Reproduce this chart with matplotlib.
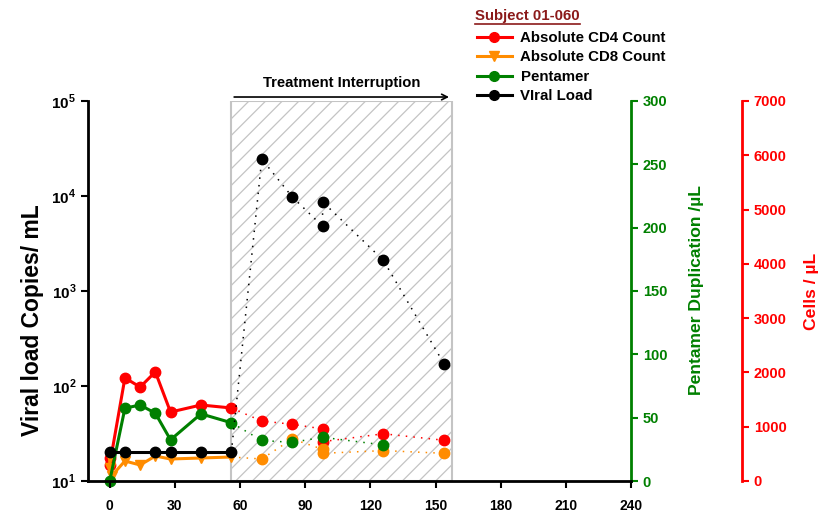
import matplotlib
matplotlib.use("Agg")
import matplotlib.pyplot as plt
from matplotlib.lines import Line2D

plt.rcParams['font.family'] = ['Liberation Sans', 'DejaVu Sans']
plt.rcParams['font.weight'] = 'bold'
plt.rcParams['mathtext.fontset'] = 'custom'
plt.rcParams['mathtext.rm'] = 'Liberation Sans:bold'
plt.rcParams['mathtext.bf'] = 'Liberation Sans:bold'
plt.rcParams['hatch.linewidth'] = 0.9

RED = '#ff0000'
ORANGE = '#ff8c00'
GREEN = '#008000'
TITLE_RED = '#8b1a1a'

# on therapy (solid) and during the interruption (dotted)
days_cd4 = [0, 0, 7, 14, 21, 28, 42, 56]
cd4 = [420, 300, 1900, 1730, 2010, 1270, 1400, 1345]
days_cd4_off = [70, 84, 98, 98, 126, 154]
cd4_off = [1105, 1045, 960, 725, 870, 750]

days_cd8 = [0, 0, 1, 7, 14, 21, 28, 42, 56]
cd8 = [440, 240, 100, 368, 295, 460, 405, 424, 442]
days_cd8_off = [70, 84, 98, 98, 126, 154]
cd8_off = [405, 775, 585, 510, 560, 510]

days_pent = [0, 7, 14, 21, 28, 42, 56]
pent = [0, 57.5, 60, 53.5, 32.5, 53, 46]
days_pent_off = [70, 84, 98, 126]
pent_off = [32, 30.5, 34.5, 28.5]

days_vl = [0, 7, 21, 28, 42, 56]
vl = [20, 20, 20, 20, 20, 20]
days_vl_off = [70, 84, 98, 98, 126, 154]
vl_off = [24500, 9800, 4800, 8700, 2100, 170]

interruption = (56, 157.5)
x_ticks = [0, 30, 60, 90, 120, 150, 180, 210, 240]
pent_ticks = [0, 50, 100, 150, 200, 250, 300]
cell_ticks = [0, 1000, 2000, 3000, 4000, 5000, 6000, 7000]
vl_ticks = [1e1, 1e2, 1e3, 1e4, 1e5]

fig = plt.figure(figsize=(8.31, 5.15), dpi=100)
ax = fig.add_axes([88/831, 34/515, 543/831, 380/515])
axg = ax.twinx()
axr = ax.twinx()
axr.set_zorder(1)
axg.set_zorder(2)
ax.set_zorder(3)
ax.patch.set_visible(False)

dot = (0, (1, 4))

def draw(a, d_on, v_on, d_off, v_off, color, marker):
    a.plot(d_on, v_on, color=color, lw=2.2, marker=marker, ms=7.5, clip_on=False)
    a.plot([d_on[-1]] + d_off, [v_on[-1]] + v_off, color=color, lw=1.1, ls=dot,
           marker='o', ms=7.5, markevery=list(range(1, len(d_off) + 1)), clip_on=False)

draw(axr, days_cd4, cd4, days_cd4_off, cd4_off, RED, 'o')
draw(axr, days_cd8, cd8, days_cd8_off, cd8_off, ORANGE, 'v')
draw(axg, days_pent, pent, days_pent_off, pent_off, GREEN, 'o')
draw(ax, days_vl, vl, days_vl_off, vl_off, 'black', 'o')

# shaded treatment interruption window
axr.axvspan(*interruption, facecolor='white', edgecolor='#c4c4c4', hatch='//', lw=1.5, zorder=0)
ax.annotate('', xy=(interruption[1], 1.0105), xytext=(interruption[0], 1.0105),
            xycoords=('data', 'axes fraction'),
            arrowprops=dict(arrowstyle='->', lw=1.2, color='black'), annotation_clip=False)
ax.text(sum(interruption) / 2, 1.047, 'Treatment Interruption', transform=ax.get_xaxis_transform(),
        ha='center', va='center', fontsize=10.7, fontweight='bold')

# left log axis
ax.set_yscale('log')
ax.set_ylim(10, 1e5)
ax.set_xlim(-10, 240)
ax.set_xticks(x_ticks)
ax.set_yticks(vl_ticks)
ax.set_yticklabels([r'$10^{%d}$' % p for p in range(1, 6)])
ax.yaxis.set_minor_locator(matplotlib.ticker.NullLocator())
ax.tick_params(axis='both', direction='out', length=5, width=1.5, labelsize=10)
ax.tick_params(axis='y', labelsize=11)
ax.tick_params(axis='x', pad=8)
for s in ('top', 'right'):
    ax.spines[s].set_visible(False)
for s in ('left', 'bottom'):
    ax.spines[s].set_linewidth(2)
ax.set_ylabel('Viral load Copies/ mL', fontsize=16.5, fontweight='bold', va='center', ha='center')
ax.yaxis.set_label_coords(-0.103, 0.424)

# pentamer axis
axg.set_ylim(0, 300)
axg.set_yticks(pent_ticks)
for s in ('top', 'left', 'bottom'):
    axg.spines[s].set_visible(False)
axg.spines['right'].set_color(GREEN)
axg.spines['right'].set_linewidth(2)
axg.tick_params(axis='y', colors=GREEN, length=5, width=1.5, labelsize=10.5)
axg.set_ylabel('Pentamer Duplication /µL', color=GREEN, fontsize=12.6, fontweight='bold',
               va='center', ha='center')
axg.yaxis.set_label_coords(1.121, 0.503)

# cell count axis
axr.set_ylim(0, 7000)
axr.set_yticks(cell_ticks)
for s in ('top', 'left', 'bottom'):
    axr.spines[s].set_visible(False)
axr.spines['right'].set_position(('axes', 1 + 111/543))
axr.spines['right'].set_color(RED)
axr.spines['right'].set_linewidth(2)
axr.tick_params(axis='y', colors=RED, length=5, width=1.5, labelsize=10.5)
axr.set_ylabel('Cells / µL', color=RED, fontsize=12.6, fontweight='bold', va='center', ha='center')
axr.yaxis.set_label_coords(1.333, 0.5)

handles = [
    Line2D([], [], color=RED, lw=2.2, marker='o', ms=7),
    Line2D([], [], color=ORANGE, lw=2.2, marker='v', ms=7),
    Line2D([], [], color=GREEN, lw=2.2, marker='o', ms=7),
    Line2D([], [], color='black', lw=2.2, marker='o', ms=7),
]
labels = ['Absolute CD4 Count', 'Absolute CD8 Count', 'Pentamer', 'VIral Load']
fig.legend(handles, labels, loc='upper left', bbox_to_anchor=(477/831, 1 - 31/515),
           frameon=False, handlelength=2.3, handletextpad=0.6,
           labelspacing=0.36, borderaxespad=0, borderpad=0, prop={'weight': 'bold', 'size': 10.8})

title = fig.text(475/831, 1 - 16/515, 'Subject 01-060', color=TITLE_RED, fontsize=10.8,
                 fontweight='bold', ha='left', va='center')
fig.canvas.draw()
bb = title.get_window_extent()
fig.add_artist(Line2D([bb.x0 / 831, bb.x1 / 831], [(bb.y0 - 1) / 515] * 2,
                      color=TITLE_RED, lw=1.2))

fig.savefig('out.png', dpi=100)
